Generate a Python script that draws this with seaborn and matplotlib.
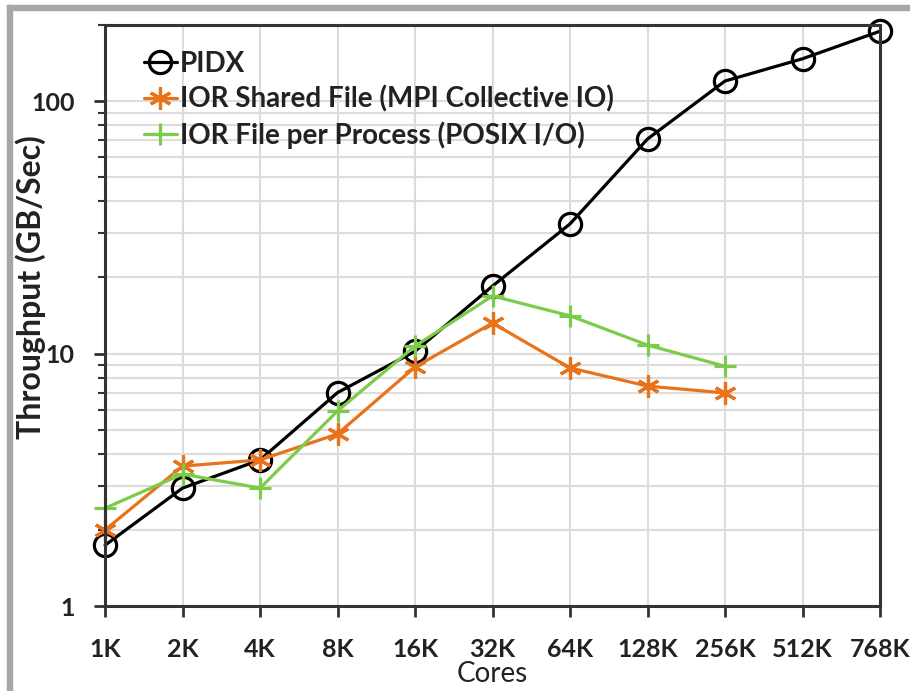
import matplotlib
matplotlib.use("Agg")
import matplotlib.pyplot as plt
from matplotlib.patches import Rectangle
from matplotlib.ticker import LogLocator, NullFormatter, FixedLocator
import seaborn as sns
import pandas as pd
import numpy as np

cores = ["1K", "2K", "4K", "8K", "16K", "32K", "64K", "128K", "256K", "512K", "768K"]
pidx = [1.74, 2.93, 3.79, 7.0, 10.2, 18.5, 32.6, 70.7, 120, 147, 189]
ior_shared = [2.0, 3.58, 3.79, 4.8, 8.84, 13.2, 8.77, 7.43, 6.98]
ior_fpp = [2.44, 3.33, 2.93, 5.92, 10.7, 16.9, 14.1, 10.8, 8.9]

series_names = ["PIDX", "IOR Shared File (MPI Collective IO)", "IOR File per Process (POSIX I/O)"]
series_vals = [pidx, ior_shared, ior_fpp]
colors = ["#000000", "#E8731A", "#7DCB4A"]

sns.set_theme(style="white")
plt.rcParams['font.family'] = ['Lato', 'DejaVu Sans']

fig = plt.figure(figsize=(9.1, 6.91), dpi=100)
W, H = 910, 691
ax = fig.add_axes([105 / W, 1 - 606 / H, (880 - 105) / W, (606 - 25) / H])

markers = ["o", (6, 2, 0), "+"]
msizes = [16, 16, 16]
for name, vals, col, mk, ms in zip(series_names, series_vals, colors, markers, msizes):
    df = pd.DataFrame({"pos": np.arange(len(vals)), "val": vals})
    kw = dict(marker=mk, markersize=ms, color=col, linewidth=2.3, label=name, clip_on=False)
    if mk == "o":
        kw.update(markerfacecolor="none", markeredgecolor=col, markeredgewidth=2.3)
    else:
        kw.update(markeredgewidth=2.3, markeredgecolor=col)
    sns.lineplot(data=df, x="pos", y="val", ax=ax, **kw)

ax.set_yscale("log")
ax.set_ylim(1, 200)
ax.set_xlim(0, len(cores) - 1)
ax.xaxis.set_major_locator(FixedLocator(np.arange(len(cores))))
ax.set_xticklabels(cores)
ax.yaxis.set_minor_locator(LogLocator(base=10, subs=np.arange(2, 10), numticks=20))
ax.yaxis.set_minor_formatter(NullFormatter())
ax.set_yticks([1, 10, 100])
ax.set_yticklabels(["1", "10", "100"])

ax.grid(True, which="both", axis="y", color="#dcdcdc", linewidth=1.5)
ax.grid(True, which="major", axis="x", color="#dcdcdc", linewidth=1.5)
ax.set_axisbelow(True)

for sp in ax.spines.values():
    sp.set_visible(True)
    sp.set_color("#333333")
    sp.set_linewidth(2.2)

ax.tick_params(axis="both", which="major", direction="out", length=8, width=2,
               color="#333333", labelsize=18, labelcolor="#222222")
ax.tick_params(axis="y", which="minor", direction="out", length=5, width=1.5,
               color="#333333", left=True)
ax.tick_params(axis="x", which="major", bottom=True, pad=15)
ax.tick_params(axis="y", which="major", left=True, pad=14)
for lab in ax.get_xticklabels() + ax.get_yticklabels():
    lab.set_fontweight("bold")

ax.set_xlabel("Cores", fontsize=20, color="#222222", labelpad=0)
ax.set_ylabel("Throughput (GB/Sec)", fontsize=23, fontweight="bold", color="#222222", labelpad=2)
ax.yaxis.set_label_coords((46 - 105) / 775, (606 - 287) / 581)

leg = ax.legend(loc="upper left", bbox_to_anchor=(0.05, 0.955), frameon=False,
                fontsize=20, handlelength=1.2, handletextpad=0.1, labelspacing=0.3,
                borderaxespad=0, borderpad=0)
for t in leg.get_texts():
    t.set_fontweight("bold")
    t.set_color("#222222")

# gray outer border
fig.patches.append(Rectangle((7 / W, 0), 5 / W, 1 - 5 / H, transform=fig.transFigure,
                             color="#a6a6a6", zorder=0))
fig.patches.append(Rectangle((7 / W, 1 - 10 / H), 1 - 7 / W, 5 / H, transform=fig.transFigure,
                             color="#a6a6a6", zorder=0))

fig.savefig("out.png", dpi=100)
